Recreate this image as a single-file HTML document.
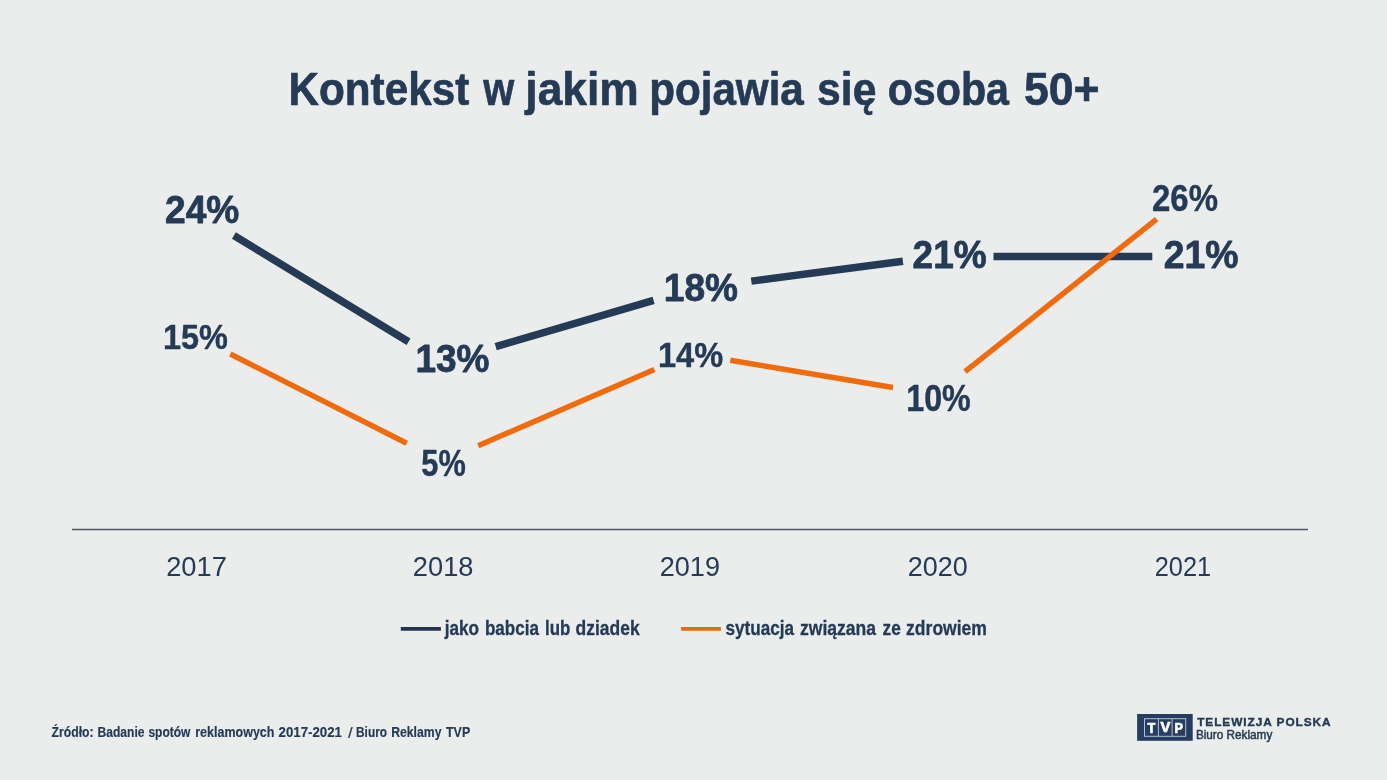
<!DOCTYPE html>
<html lang="pl"><head><meta charset="utf-8"><title>Kontekst w jakim pojawia się osoba 50+</title>
<style>
html,body{margin:0;padding:0;background:#ebeded;}
body{width:1387px;height:780px;overflow:hidden;}
svg{display:block;filter:blur(0.6px);}
svg text{font-family:"Liberation Sans",sans-serif;white-space:pre;}
</style></head><body>
<svg width="1387" height="780" viewBox="0 0 1387 780">
<rect width="1387" height="780" fill="#ebeded"/>
<g id="lines" fill="none">
<line x1="233.9" y1="235.5" x2="408.5" y2="341.8" stroke="#243a55" stroke-width="7.5"/>
<line x1="495.7" y1="346.7" x2="653.6" y2="300.3" stroke="#243a55" stroke-width="7.5"/>
<line x1="751.3" y1="281.1" x2="902.9" y2="261.2" stroke="#243a55" stroke-width="7.5"/>
<line x1="993.5" y1="256.5" x2="1152.3" y2="256.5" stroke="#243a55" stroke-width="7.5"/>
<line x1="230.3" y1="354.0" x2="406.7" y2="443.3" stroke="#f06a0e" stroke-width="5.5"/>
<line x1="478.2" y1="445.7" x2="654.4" y2="369.4" stroke="#f06a0e" stroke-width="5.5"/>
<line x1="730.3" y1="360.2" x2="893.0" y2="387.5" stroke="#f06a0e" stroke-width="5.5"/>
<line x1="965.0" y1="371.7" x2="1156.6" y2="219.2" stroke="#f06a0e" stroke-width="5.5"/>
</g>
<line x1="72" y1="529.5" x2="1308" y2="529.5" stroke="#4f565f" stroke-width="1.3"/>
<line x1="400.8" y1="628.85" x2="440.9" y2="628.85" stroke="#22344c" stroke-width="3.9"/>
<line x1="681.1" y1="628.85" x2="720.9" y2="628.85" stroke="#e26a1c" stroke-width="3.9"/>
<g id="logo">
<rect x="1137.1" y="714" width="55.6" height="26.8" fill="#263c60"/>
<rect x="1144.5" y="718.7" width="41.2" height="17.6" fill="none" stroke="#b3c1d5" stroke-width="1"/>
<line x1="1158.4" y1="718.7" x2="1158.4" y2="736.3" stroke="#b3c1d5" stroke-width="1"/>
<line x1="1172.1" y1="718.7" x2="1172.1" y2="736.3" stroke="#b3c1d5" stroke-width="1"/>
</g>
<g id="texts">
<text transform="translate(288.46 104.68) scale(0.9189 1)" font-size="46.01" font-weight="700" fill="#243a55" stroke="#243a55" stroke-width="0.64" stroke-linejoin="round">Kontekst</text>
<text transform="translate(483.20 104.68) scale(0.8666 1)" font-size="46.01" font-weight="700" fill="#243a55" stroke="#243a55" stroke-width="0.64" stroke-linejoin="round">w</text>
<text transform="translate(525.31 104.68) scale(0.9640 1)" font-size="46.01" font-weight="700" fill="#243a55" stroke="#243a55" stroke-width="0.64" stroke-linejoin="round">jakim</text>
<text transform="translate(649.17 104.68) scale(0.9168 1)" font-size="46.01" font-weight="700" fill="#243a55" stroke="#243a55" stroke-width="0.64" stroke-linejoin="round">pojawia</text>
<text transform="translate(817.12 104.68) scale(0.9282 1)" font-size="46.01" font-weight="700" fill="#243a55" stroke="#243a55" stroke-width="0.64" stroke-linejoin="round">się</text>
<text transform="translate(887.66 104.68) scale(0.8961 1)" font-size="46.01" font-weight="700" fill="#243a55" stroke="#243a55" stroke-width="0.64" stroke-linejoin="round">osoba</text>
<text transform="translate(1023.88 104.68) scale(0.9701 1)" font-size="46.01" font-weight="700" fill="#243a55" stroke="#243a55" stroke-width="0.64" stroke-linejoin="round">50+</text>
<text transform="translate(165.07 223.42) scale(0.9514 1)" font-size="39.04" font-weight="700" fill="#243a55" stroke="#243a55" stroke-width="0.78" stroke-linejoin="round">24%</text>
<text transform="translate(415.47 371.91) scale(0.9377 1)" font-size="39.45" font-weight="700" fill="#243a55" stroke="#243a55" stroke-width="0.79" stroke-linejoin="round">13%</text>
<text transform="translate(663.76 301.32) scale(0.9536 1)" font-size="38.90" font-weight="700" fill="#243a55" stroke="#243a55" stroke-width="0.78" stroke-linejoin="round">18%</text>
<text transform="translate(912.57 268.41) scale(0.9389 1)" font-size="39.45" font-weight="700" fill="#243a55" stroke="#243a55" stroke-width="0.79" stroke-linejoin="round">21%</text>
<text transform="translate(1163.67 268.41) scale(0.9466 1)" font-size="39.45" font-weight="700" fill="#243a55" stroke="#243a55" stroke-width="0.79" stroke-linejoin="round">21%</text>
<text transform="translate(163.01 349.16) scale(0.9068 1)" font-size="35.80" font-weight="700" fill="#243a55" stroke="#243a55" stroke-width="0.43" stroke-linejoin="round">15%</text>
<text transform="translate(421.33 476.06) scale(0.8512 1)" font-size="36.08" font-weight="700" fill="#243a55" stroke="#243a55" stroke-width="0.43" stroke-linejoin="round">5%</text>
<text transform="translate(658.01 366.76) scale(0.9083 1)" font-size="35.80" font-weight="700" fill="#243a55" stroke="#243a55" stroke-width="0.43" stroke-linejoin="round">14%</text>
<text transform="translate(906.23 410.76) scale(0.8885 1)" font-size="36.25" font-weight="700" fill="#243a55" stroke="#243a55" stroke-width="0.44" stroke-linejoin="round">10%</text>
<text transform="translate(1152.01 210.66) scale(0.9131 1)" font-size="36.11" font-weight="700" fill="#243a55" stroke="#243a55" stroke-width="0.43" stroke-linejoin="round">26%</text>
<text transform="translate(166.14 575.92) scale(0.9689 1)" font-size="28.17" font-weight="400" fill="#243a55">2017</text>
<text transform="translate(412.84 575.92) scale(0.9683 1)" font-size="28.17" font-weight="400" fill="#243a55">2018</text>
<text transform="translate(659.74 575.92) scale(0.9623 1)" font-size="28.17" font-weight="400" fill="#243a55">2019</text>
<text transform="translate(907.75 575.92) scale(0.9578 1)" font-size="28.17" font-weight="400" fill="#243a55">2020</text>
<text transform="translate(1154.73 575.92) scale(0.9004 1)" font-size="28.17" font-weight="400" fill="#243a55">2021</text>
<text transform="translate(444.73 634.66) scale(0.8895 1)" font-size="19.33" font-weight="700" fill="#243a55" stroke="#243a55" stroke-width="0.29" stroke-linejoin="round">jako</text>
<text transform="translate(484.98 634.66) scale(0.8805 1)" font-size="19.33" font-weight="700" fill="#243a55" stroke="#243a55" stroke-width="0.29" stroke-linejoin="round">babcia</text>
<text transform="translate(544.99 634.66) scale(0.8727 1)" font-size="19.33" font-weight="700" fill="#243a55" stroke="#243a55" stroke-width="0.29" stroke-linejoin="round">lub</text>
<text transform="translate(575.59 634.66) scale(0.9040 1)" font-size="19.33" font-weight="700" fill="#243a55" stroke="#243a55" stroke-width="0.29" stroke-linejoin="round">dziadek</text>
<text transform="translate(725.59 634.66) scale(0.8854 1)" font-size="19.33" font-weight="700" fill="#243a55" stroke="#243a55" stroke-width="0.29" stroke-linejoin="round">sytuacja</text>
<text transform="translate(800.09 634.66) scale(0.9076 1)" font-size="19.33" font-weight="700" fill="#243a55" stroke="#243a55" stroke-width="0.29" stroke-linejoin="round">związana</text>
<text transform="translate(882.49 634.66) scale(0.8943 1)" font-size="19.33" font-weight="700" fill="#243a55" stroke="#243a55" stroke-width="0.29" stroke-linejoin="round">ze</text>
<text transform="translate(906.09 634.66) scale(0.9077 1)" font-size="19.33" font-weight="700" fill="#243a55" stroke="#243a55" stroke-width="0.29" stroke-linejoin="round">zdrowiem</text>
<text transform="translate(51.60 736.72) scale(0.8890 1)" font-size="13.71" font-weight="700" fill="#243a55" stroke="#243a55" stroke-width="0.16" stroke-linejoin="round">Źródło:</text>
<text transform="translate(97.58 736.72) scale(0.8808 1)" font-size="13.71" font-weight="700" fill="#243a55" stroke="#243a55" stroke-width="0.16" stroke-linejoin="round">Badanie</text>
<text transform="translate(148.44 736.72) scale(0.8771 1)" font-size="13.71" font-weight="700" fill="#243a55" stroke="#243a55" stroke-width="0.16" stroke-linejoin="round">spotów</text>
<text transform="translate(195.25 736.72) scale(0.9120 1)" font-size="13.71" font-weight="700" fill="#243a55" stroke="#243a55" stroke-width="0.16" stroke-linejoin="round">reklamowych</text>
<text transform="translate(278.60 736.72) scale(0.9650 1)" font-size="13.71" font-weight="700" fill="#243a55" stroke="#243a55" stroke-width="0.16" stroke-linejoin="round">2017-2021</text>
<text transform="translate(347.88 737.51) scale(1.1158 1)" font-size="15.14" font-weight="400" fill="#243a55" stroke="#243a55" stroke-width="0.18" stroke-linejoin="round">/</text>
<text transform="translate(355.99 736.72) scale(0.8681 1)" font-size="13.71" font-weight="700" fill="#243a55" stroke="#243a55" stroke-width="0.16" stroke-linejoin="round">Biuro</text>
<text transform="translate(391.17 736.72) scale(0.8919 1)" font-size="13.71" font-weight="700" fill="#243a55" stroke="#243a55" stroke-width="0.16" stroke-linejoin="round">Reklamy</text>
<text transform="translate(446.04 736.72) scale(0.9048 1)" font-size="13.71" font-weight="700" fill="#243a55" stroke="#243a55" stroke-width="0.16" stroke-linejoin="round">TVP</text>
<text transform="translate(1197.16 725.50) scale(1.0319 1)" font-size="11.48" font-weight="700" fill="#243a55" letter-spacing="0.92" stroke="#243a55" stroke-width="0.40" stroke-linejoin="round">TELEWIZJA POLSKA</text>
<text transform="translate(1195.89 739.26) scale(0.9733 1)" font-size="12.09" font-weight="400" fill="#243a55" stroke="#243a55" stroke-width="0.48" stroke-linejoin="round">Biuro Reklamy</text>
<text transform="translate(1147.49 732.51) scale(0.8720 1)" font-size="14.69" font-weight="700" fill="#fff" stroke="#fff" stroke-width="0.73" stroke-linejoin="round">T</text>
<text transform="translate(1160.60 732.44) scale(1.0108 1)" font-size="14.59" font-weight="700" fill="#fff" stroke="#fff" stroke-width="0.73" stroke-linejoin="round">V</text>
<text transform="translate(1174.50 732.51) scale(0.8562 1)" font-size="14.69" font-weight="700" fill="#fff" stroke="#fff" stroke-width="0.73" stroke-linejoin="round">P</text>
</g>
</svg>
</body></html>
